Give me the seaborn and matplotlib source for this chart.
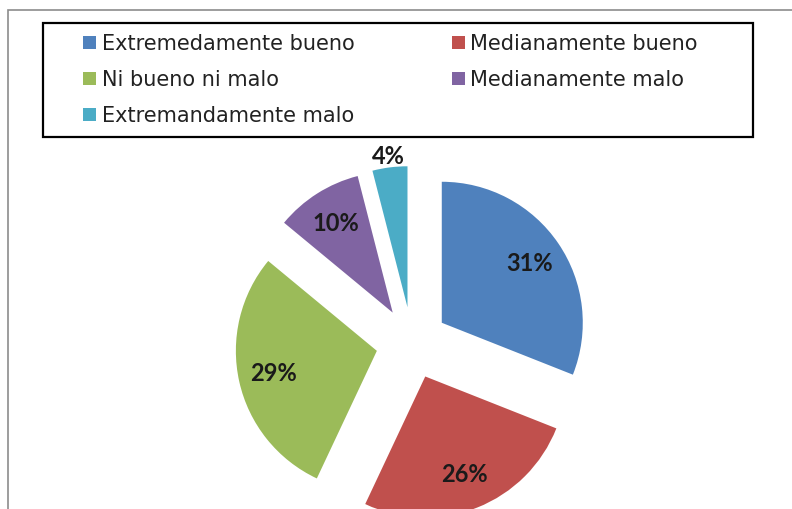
import matplotlib
matplotlib.use("Agg")
import matplotlib.pyplot as plt
from matplotlib.patches import Rectangle
import numpy as np
import seaborn as sns

categories = ["Extremedamente bueno", "Medianamente bueno", "Ni bueno ni malo",
              "Medianamente malo", "Extremandamente malo"]
values = [31, 26, 29, 10, 4]
colors = ["#4F81BD", "#C0504D", "#9BBB59", "#8064A2", "#4BACC6"]

sns.set_theme(style="white")
plt.rcParams["font.family"] = ["DejaVu Sans"]
palette = sns.color_palette(colors)

W, H = 792, 509
fig = plt.figure(figsize=(W / 100, H / 100), dpi=100)
fig.patch.set_facecolor("white")
ax = fig.add_axes([0, 0, 1, 1])

R = 141
wedges, texts, autotexts = ax.pie(
    values, colors=palette, startangle=90, counterclock=False,
    explode=[36] * len(values), radius=R, center=(412, H - 343),
    autopct="%d%%", pctdistance=0.75,
    textprops=dict(fontsize=17, color="#1a1a1a", fontweight="bold", family="Lato"),
    wedgeprops=dict(linewidth=0),
)

# small slice label goes outside
w = wedges[-1]
mid = np.deg2rad((w.theta1 + w.theta2) / 2)
cx, cy = w.center
autotexts[-1].set_position((cx + 1.08 * R * np.cos(mid), cy + 1.08 * R * np.sin(mid)))

ax.set_xlim(0, W)
ax.set_ylim(0, H)
ax.set_aspect("auto")
ax.axis("off")

order = [0, 2, 4, 1, 3]
leg = fig.legend([wedges[i] for i in order], [categories[i] for i in order],
                 ncol=2, loc="upper left", mode="expand",
                 bbox_to_anchor=(83 / W, 1 - 34 / H, (698 - 83) / W, 0),
                 fontsize=15, frameon=False,
                 handlelength=0.64, handleheight=0.55, handletextpad=0.26,
                 labelspacing=0.77, borderpad=0, borderaxespad=0)
for t in leg.get_texts():
    t.set_color("#222222")

# legend box
fig.patches.append(Rectangle((43 / W, 1 - 137 / H), (753 - 43) / W, (137 - 23) / H,
                             transform=fig.transFigure, fill=False,
                             edgecolor="black", linewidth=1.6))

# outer chart frame
fig.patches.append(Rectangle((8 / W, -0.1), 1.2, 1 - 10 / H + 0.1,
                             transform=fig.transFigure, fill=False,
                             edgecolor="#8c8c8c", linewidth=1.2))

fig.savefig("out.png", dpi=100)
